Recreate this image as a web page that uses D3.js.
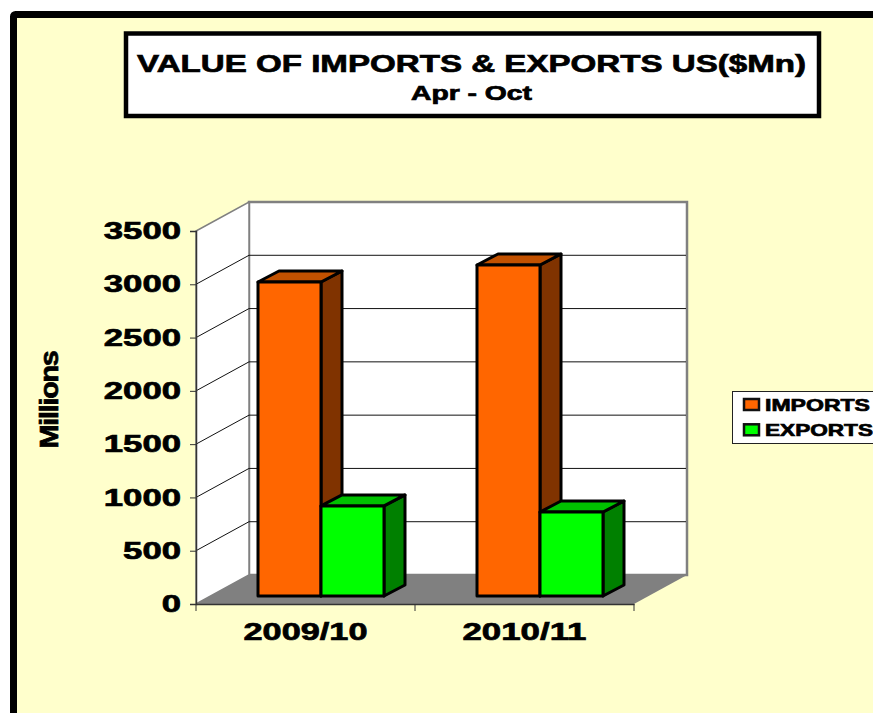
<!DOCTYPE html>
<html><head><meta charset="utf-8">
<script src="https://cdn.jsdelivr.net/npm/d3@7/dist/d3.min.js"></script>
<style>html,body{margin:0;padding:0;background:#fff}svg{display:block}text{font-family:"Liberation Sans",Arial,sans-serif;font-weight:bold;fill:#000;stroke:#000;stroke-width:.7px}</style>
</head><body><div id="c"></div>
<script>
const categories = ["2009/10", "2010/11"];
const seriesNames = ["IMPORTS", "EXPORTS"];
const imports = [2946, 3106];
const exportsV = [845, 788];
const yTicks = [0, 500, 1000, 1500, 2000, 2500, 3000, 3500];
const titleText = "VALUE OF IMPORTS & EXPORTS US($Mn)";
const subtitleText = "Apr - Oct";
const yTitle = "Millions";
const colors = {IMPORTS: {front:"#ff6600", top:"#c25100", side:"#803300"}, EXPORTS: {front:"#00ff00", top:"#00c200", side:"#008000"}};

const W = 873, H = 713;
const svg = d3.select("#c").append("svg").attr("width", W).attr("height", H);
// frame
svg.append("rect").attr("x",13.5).attr("y",14.5).attr("width",W+40).attr("height",H+40).attr("rx",2)
  .attr("fill","#ffffcc").attr("stroke","#000").attr("stroke-width",7);
// title box
svg.append("rect").attr("x",126).attr("y",33.5).attr("width",693).attr("height",82.5)
  .attr("fill","#fff").attr("stroke","#000").attr("stroke-width",4.5);
function wide(sel, len){ return sel.attr("textLength",len).attr("lengthAdjust","spacingAndGlyphs"); }
wide(svg.append("text").attr("x",471.5).attr("y",72).attr("text-anchor","middle").attr("font-size",24.5).text(titleText),669);
wide(svg.append("text").attr("x",471.5).attr("y",100).attr("text-anchor","middle").attr("font-size",20).text(subtitleText),121);

// projection
const x0=196, x1=634, yBase=604, yTop=231, dx=53, dy=-29;
const y = d3.scaleLinear().domain([0,3500]).range([yBase,yTop]);
const x = d3.scaleBand().domain(categories).range([x0,x1]);
const P = a=>a.map(p=>p.join(",")).join(" ");
const g = svg.append("g");
// walls
g.append("polygon").attr("points",P([[x0+dx,yBase+dy],[x1+dx,yBase+dy],[x1+dx,yTop+dy],[x0+dx,yTop+dy]]))
  .attr("fill","#fff").attr("stroke","#808080").attr("stroke-width",2.5);
g.append("polygon").attr("points",P([[x0,yBase],[x0+dx,yBase+dy],[x0+dx,yTop+dy],[x0,yTop]]))
  .attr("fill","#fff").attr("stroke","#808080").attr("stroke-width",1.5);
g.append("polygon").attr("points",P([[x0,yBase],[x1,yBase],[x1+dx,yBase+dy],[x0+dx,yBase+dy]]))
  .attr("fill","#808080");
// gridlines
yTicks.filter(t=>t>0&&t<3500).forEach(t=>{
  g.append("polyline").attr("points",P([[x0,y(t)],[x0+dx,y(t)+dy],[x1+dx-1,y(t)+dy]]))
   .attr("fill","none").attr("stroke","#111").attr("stroke-width",1);
});
// axes
const ay = svg.append("g").attr("transform",`translate(${x0},0)`)
  .call(d3.axisLeft(y).tickValues(yTicks).tickSize(6).tickPadding(8).tickFormat(d3.format("d")));
ay.selectAll("text").attr("font-size",24).attr("x",-15).each(function(d){
  const n=String(d).length; wide(d3.select(this),n*19.3);
});
const ax = svg.append("g").attr("transform",`translate(0,${yBase})`)
  .call(d3.axisBottom(x).tickSizeOuter(0).tickSize(0).tickPadding(0));
ax.selectAll("text").attr("font-size",24).attr("y",28).attr("dy","0.32em").each(function(){wide(d3.select(this),124);});
x.domain().concat(["end"]).forEach((c,i)=>{
  const px = c==="end"?x1:x(c);
  ax.append("line").attr("x1",px).attr("x2",px).attr("y1",0).attr("y2",7).attr("stroke","#333");
});
svg.selectAll(".domain").attr("stroke","#333").attr("stroke-width",1.5);
svg.selectAll(".tick line").attr("stroke","#333");

// bars
const barDx=21, barDy=-11, offX=15, offY=-8, barW=63, gap=47;
const yb = v => y(v)+offY;
function box(px,v,c){
  const top=yb(v), bot=yb(0), k=g.append("g").attr("stroke","#000").attr("stroke-width",3).attr("stroke-linejoin","round");
  k.append("polygon").attr("points",P([[px+barW,top],[px+barW+barDx,top+barDy],[px+barW+barDx,bot+barDy],[px+barW,bot]])).attr("fill",c.side);
  k.append("polygon").attr("points",P([[px,top],[px+barDx,top+barDy],[px+barW+barDx,top+barDy],[px+barW,top]])).attr("fill",c.top);
  k.append("rect").attr("x",px).attr("y",top).attr("width",barW).attr("height",bot-top).attr("fill",c.front);
}
categories.forEach((c,i)=>{
  const px=x(c)+offX+gap;
  box(px,imports[i],colors.IMPORTS);
  box(px+barW,exportsV[i],colors.EXPORTS);
});
// y title
svg.append("text").attr("transform","translate(57.5,400) rotate(-90) scale(1.15,1)").attr("text-anchor","middle")
  .attr("font-size",25).attr("letter-spacing",-1.1).text(yTitle);

// legend
svg.append("rect").attr("x",732.5).attr("y",391.5).attr("width",160).attr("height",52)
  .attr("fill","#fff").attr("stroke","#222").attr("stroke-width",1);
seriesNames.forEach((s,i)=>{
  const yy=399+i*25.3;
  svg.append("rect").attr("x",744).attr("y",yy).attr("width",15).attr("height",11)
    .attr("fill",colors[s].front).attr("stroke","#111").attr("stroke-width",2.5);
  wide(svg.append("text").attr("x",765).attr("y",yy+12).attr("font-size",17).text(s),i?108:105);
});
</script></body></html>
